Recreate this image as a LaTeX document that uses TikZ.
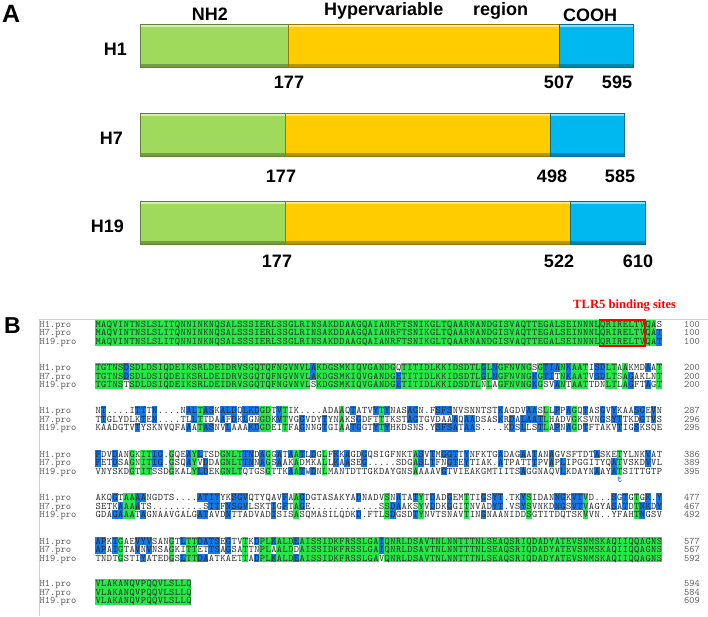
\documentclass[tikz,border=0pt]{standalone}
\usepackage{fontspec}
\setsansfont{Liberation Sans}
\newfontfamily\sitefont{Liberation Serif}

\definecolor{nhgreen}{RGB}{160,218,92}
\definecolor{hvyellow}{RGB}{255,204,0}
\definecolor{coblue}{RGB}{0,184,240}
\definecolor{idgreen}{RGB}{38,232,72}
\definecolor{simblue}{RGB}{22,120,232}
\definecolor{restext}{RGB}{40,40,40}
\definecolor{lbltext}{RGB}{95,95,95}
\definecolor{framecol}{RGB}{200,210,226}

\tikzset{
  segbox/.style 2 args={draw=#1!60!black, fill=#1, line width=0.6, inner sep=0,
    minimum width=#2, minimum height=43, anchor=north west,
    path picture={
      \fill[#1!45!white] (path picture bounding box.north west) rectangle ([yshift=-3]path picture bounding box.north east);
      \fill[#1!72!black] ([yshift=3]path picture bounding box.south west) rectangle (path picture bounding box.south east);}},
  barlbl/.style={font=\fontsize{18}{18}\selectfont\sffamily\bfseries, inner sep=0, anchor=base},
  res/.style={font=\fontsize{10}{10}\selectfont\ttfamily, text=restext, inner sep=0,
    text height=6, text depth=0.5, text width=4.6, align=center, anchor=base},
  seqlbl/.style={font=\fontsize{10}{10}\selectfont\ttfamily, text=lbltext, inner sep=0,
    text height=6, text depth=0.5, anchor=base west},
  seqnum/.style={font=\fontsize{10}{10}\selectfont\ttfamily, text=lbltext, inner sep=0,
    text height=6, text depth=0.5, anchor=base east}
}

% alignment: one cell per residue, 5.67 wide, rows 8.5 apart
\newcount\colno
\def\alnput#1#2#3{%
  \ifx#3\relax\else
    \fill[fill=#3] ({95+(\the\colno-1)*5.67},{\blky+#1*8.5-4.25}) rectangle ++(5.67,8.5);
  \fi
  \node[res] at ({95+(\the\colno-0.5)*5.67},{\blky+#1*8.5+3}) {#2};}
\def\alncell#1#2#3{%
  \let\hlA\relax\let\hlB\relax\let\hlC\relax
  \if#1#2\if#1#3\def\hlA{idgreen}\def\hlB{idgreen}\def\hlC{idgreen}%
    \else\def\hlA{simblue}\def\hlB{simblue}\fi
  \else\if#1#3\def\hlA{simblue}\def\hlC{simblue}%
    \else\if#2#3\def\hlB{simblue}\def\hlC{simblue}\fi\fi\fi
  \if.#1\let\hlA\relax\fi
  \if.#2\let\hlB\relax\fi
  \if.#3\let\hlC\relax\fi
  \alnput{0}{#1}\hlA
  \alnput{1}{#2}\hlB
  \alnput{2}{#3}\hlC}
\def\alnstep#1#2\relax#3#4\relax#5#6\relax{%
  \advance\colno by 1
  \alncell{#1}{#3}{#5}%
  \if\relax\detokenize{#2}\relax\let\alnnext\relax
  \else\def\alnnext{\alnstep#2\relax#4\relax#6\relax}\fi
  \alnnext}
\def\alnblock#1#2#3#4#5#6#7#8{%
  \def\blky{#1}\colno=0
  \alnstep#2\relax#3\relax#4\relax
  \node[seqlbl] (lab#8a) at (39.5,{#1+3}) {H1.pro};
  \node[seqlbl] (lab#8b) at (39.5,{#1+11.5}) {H7.pro};
  \node[seqlbl] (lab#8c) at (39.5,{#1+20}) {H19.pro};
  \node[seqnum] (num#8a) at (700,{#1+3}) {#5};
  \node[seqnum] (num#8b) at (700,{#1+11.5}) {#6};
  \node[seqnum] (num#8c) at (700,{#1+20}) {#7};}

\begin{document}
\begin{tikzpicture}[x=1pt,y=-1pt]
\useasboundingbox (0,0) rectangle (708,616);

% A: domain bars
\node[font=\fontsize{25}{25}\selectfont\sffamily\bfseries, inner sep=0, anchor=base west] (pA) at (2,22) {A};
\node[barlbl] (tnh) at (210,20.5) {NH2};
\node[barlbl, anchor=base west] (thv) at (324,15) {Hypervariable};
\node[barlbl, anchor=base west] (trg) at (473,15) {region};
\node[barlbl] (tco) at (590,21.5) {COOH};

\node[segbox={nhgreen}{148}] (h1n) at (140,24) {};
\node[segbox={hvyellow}{271}] (h1v) at (288,24) {};
\node[segbox={coblue}{74}] (h1c) at (559,24) {};
\node[barlbl, anchor=base east] (h1) at (127,55) {H1};
\node[barlbl] (h1a) at (289,88) {177};
\node[barlbl] (h1b) at (559,88) {507};
\node[barlbl] (h1e) at (617,88) {595};

\node[segbox={nhgreen}{145}] (h7n) at (140,113) {};
\node[segbox={hvyellow}{265}] (h7v) at (285,113) {};
\node[segbox={coblue}{74}] (h7c) at (550,113) {};
\node[barlbl, anchor=base east] (h7) at (123,144) {H7};
\node[barlbl] (h7a) at (281,182) {177};
\node[barlbl] (h7b) at (552,182) {498};
\node[barlbl] (h7e) at (620,182) {585};

\node[segbox={nhgreen}{145}] (h19n) at (140,201) {};
\node[segbox={hvyellow}{285}] (h19v) at (285,201) {};
\node[segbox={coblue}{75}] (h19c) at (570,201) {};
\node[barlbl, anchor=base east] (h19) at (124,232) {H19};
\node[barlbl] (h19a) at (277,267) {177};
\node[barlbl] (h19b) at (559,267) {522};
\node[barlbl] (h19e) at (638,267) {610};

% B: alignment
\node[font=\fontsize{23}{23}\selectfont\sffamily\bfseries, inner sep=0, anchor=base west] (pB) at (4,333) {B};
\node[font=\fontsize{12.6}{12.6}\selectfont\sitefont\bfseries, text=red, inner sep=0, anchor=base west] (tlr) at (573,308.5) {TLR5 binding sites};
\draw[framecol, line width=0.8] (708,319) -- (39,319) -- (39,616);

\alnblock{324.3}
 {MAQVINTNSLSLITQNNINKNQSALSSSIERLSSGLRINSAKDDAAGQAIANRFTSNIKGLTQAARNANDGISVAQTTEGALSEINNNLQRIRELTVQAS}
 {MAQVINTNSLSLITQNNINKNQSALSSSIERLSSGLRINSAKDDAAGQAIANRFTSNIKGLTQAARNANDGISVAQTTEGALSEINNNLQRIRELTVQAT}
 {MAQVINTNSLSLITQNNINKNQSALSSSIERLSSGLRINSAKDDAAGQAIANRFTSNIKGLTQAARNANDGISVAQTTEGALSEINNNLQRIRELTVQAT}
 {100}{100}{100}{1}
\alnblock{367.5}
 {TGTNSDSDLDSIQDEIKSRLDEIDRVSGQTQFNGVNVLAKDGSMKIQVGANDGQTITIDLKKIDSDTLGLNGFNVNGSGTIANKAATISDLTAAKMDAAT}
 {TGTNSDSDLDSIQDEIKSRLDEIDRVSGQTQFNGVNVLAKDGSMKIQVGANDGETITIDLKKIDSDTLGLNGFNVNGKGTITNKAATVSDLTSAGAKLNT}
 {TGTNSTSDLDSIQDEIKSRLDEIDRVSGQTQFNGVNVLSKDGSMKIQVGANDGETITIDLKKIDSDTLNLAGFNVNGKGSVANTAATTDNLTLAGFTAGT}
 {200}{200}{200}{2}
\alnblock{410.7}
 {NT....ITTTN....NALTASKALDQLKDGDTVTIK....ADAAQTATVYTYNASAGN.FSFSNVSNNTSTKAGDVAASLLPPAGQTASGVYKAASGEVN}
 {TTGLYDLKTEN....TLLTTDAAFDKLGNGDKVTVGGVDYTYNAKSGDFTTTKSTAGTGVDAAAQAADSASKRDALAATLHADVGKSVNGSYTTKDGTVS}
 {KAADGTVTYSKNVQFAAATASNVLAAAKDGDEITFAGNNGTGIAATGGTYTYHKDSNS.YSFSATAAS....KDSLLSTLAPNAGDTFTAKVTIGSKSQE}
 {287}{296}{295}{3}
\alnblock{454.2}
 {FDVDANGKITIG.GQEAYLTSDGNLTTNDAGGATAATLDGLFKKAGDGQSIGFNKTASVTMGGTTYNFKTGADAGAATANAGVSFTDTASKETYLNKVAT}
 {FETDSAGNITIG.GSQAYVDDAGNLTTNNAGSAAKADMKALLKAASEG.....SDGASLTFNGTEYTIAK.ATPATTTPVAPLIPGGITYQATVSKDVVL}
 {VNYSKDGTITSSDGKALYLDEKGNLTQTGSGTTKAATWDNLMANTDTTGKDAYGNSAAAAVGTVIEAKGMTIITSAGGNAQVLKDAYNAAYATSITTGTP}
 {386}{389}{395}{4}
\node[res, text=simblue!60!black] (cons) at (619.5,482.5) {t};
\alnblock{497.7}
 {AKQGTAAAANGDTS....ATITYKSGVQTYQAVFAAGDGTASAKYADNADVSNATATYTDADGEMTTIGSYT.TKYSIDANNGKVTVD...SGTGTGK.Y}
 {SETKAAAATS.........SITFNSGVLSKTIGFTAGE............SSDAAKSYVDDKGGITNVADYT.VSYSVNKDNGSVTVAGYASATDTNKDY}
 {GDAGAAATAGNAAVGALGATAVDNTTADVADISISASQMASILQDKD.FTLSDGSDTYNVTSNAVTINGNAANIDDSGTITDQTSKVVN..YFAHTNGSV}
 {477}{467}{492}{5}
\alnblock{541}
 {APKIGAEVYVSANGTLTTDATSEGTVTKDPLKALDEAISSIDKFRSSLGAIQNRLDSAVTNLNNTTTNLSEAQSRIQDADYATEVSNMSKAQIIQQAGNS}
 {APAIGTAVNVNSAGKITTETTSAGSATTNPLAALDDAISSIDKFRSSLGAIQNRLDSAVTNLNNTTTNLSEAQSRIQDADYATEVSNMSKAQIIQQAGNS}
 {TNDTGSTIYATEDGSLTTDAATKAETTADPLKALDEAISSIDKFRSSLGAVQNRLDSAVTNLNNTTTNLSEAQSRIQDADYATEVSNMSKAQIIQQAGNS}
 {577}{567}{592}{6}
\alnblock{583.5}
 {VLAKANQVPQQVLSLLQ}
 {VLAKANQVPQQVLSLLQ}
 {VLAKANQVPQQVLSLLQ}
 {594}{584}{609}{7}

\draw[red, line width=1.2] (599.6,320) rectangle (645,346);
\end{tikzpicture}
\end{document}
